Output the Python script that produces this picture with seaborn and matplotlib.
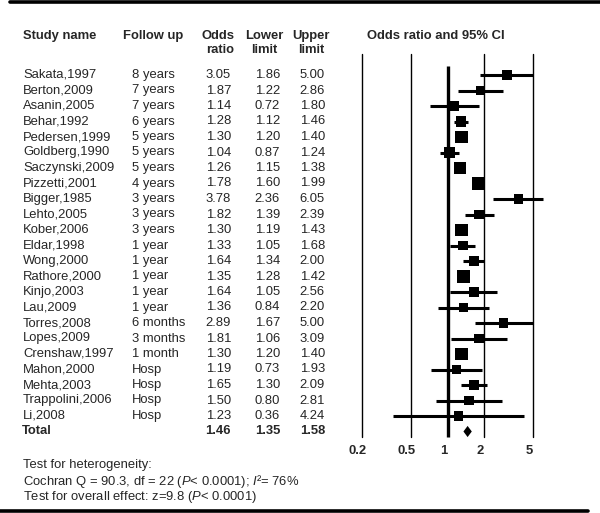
import numpy as np
import matplotlib
matplotlib.use("Agg")
import matplotlib.pyplot as plt
import matplotlib.transforms as mtransforms
from matplotlib.lines import Line2D
from matplotlib.ticker import NullLocator
import seaborn as sns

studies = ['Sakata,1997', 'Berton,2009', 'Asanin,2005', 'Behar,1992', 'Pedersen,1999',
           'Goldberg,1990', 'Saczynski,2009', 'Pizzetti,2001', 'Bigger,1985', 'Lehto,2005',
           'Kober,2006', 'Eldar,1998', 'Wong,2000', 'Rathore,2000', 'Kinjo,2003', 'Lau,2009',
           'Torres,2008', 'Lopes,2009', 'Crenshaw,1997', 'Mahon,2000', 'Mehta,2003',
           'Trappolini,2006', 'Li,2008']
follow_up = ['8 years', '7 years', '7 years', '6 years', '5 years', '5 years', '5 years',
             '4 years', '3 years', '3 years', '3 years', '1 year', '1 year', '1 year',
             '1 year', '1 year', '6 months', '3 months', '1 month', 'Hosp', 'Hosp', 'Hosp', 'Hosp']
odds = [3.05, 1.87, 1.14, 1.28, 1.30, 1.04, 1.26, 1.78, 3.78, 1.82, 1.30, 1.33, 1.64, 1.35,
        1.64, 1.36, 2.89, 1.81, 1.30, 1.19, 1.65, 1.50, 1.23]
lower = [1.86, 1.22, 0.72, 1.12, 1.20, 0.87, 1.15, 1.60, 2.36, 1.39, 1.19, 1.05, 1.34, 1.28,
         1.05, 0.84, 1.67, 1.06, 1.20, 0.73, 1.30, 0.80, 0.36]
upper = [5.00, 2.86, 1.80, 1.46, 1.40, 1.24, 1.38, 1.99, 6.05, 2.39, 1.43, 1.68, 2.00, 1.42,
         2.56, 2.20, 5.00, 3.09, 1.40, 1.93, 2.09, 2.81, 4.24]
# relative study weights (box area)
weights = [3.8, 3.4, 3.4, 4.2, 6.0, 4.2, 6.0, 6.0, 3.4, 3.8, 6.0, 3.8, 4.2, 7.0, 3.8, 3.4,
           3.4, 3.8, 6.5, 3.4, 4.2, 3.4, 3.4]
total = (1.46, 1.35, 1.58)
ticks = [0.2, 0.5, 1, 2, 5]

sns.set_style("white")
plt.rcParams['font.family'] = ['Liberation Sans', 'DejaVu Sans']
plt.rcParams['mathtext.fontset'] = 'custom'
plt.rcParams['mathtext.rm'] = 'Liberation Sans'
plt.rcParams['mathtext.it'] = 'Liberation Sans:italic'

W, H = 600, 513
fig = plt.figure(figsize=(W / 100, H / 100), dpi=100)
fs = 9.4


def px(x, y):
    return x / W, 1 - y / H


def put(x, y, s, **kw):
    kw.setdefault('fontsize', fs)
    kw.setdefault('va', 'center')
    fig.text(*px(x, y), s, **kw)


# horizontal rules
fig.add_artist(Line2D([10 / W, 1], [1 - 1.5 / H] * 2, color='black', lw=2.6,
                      transform=fig.transFigure))
fig.add_artist(Line2D([0, 588 / W], [1 - 511 / H] * 2, color='black', lw=2.6,
                      transform=fig.transFigure))

# header
put(23, 36, 'Study name', fontweight='bold')
put(123, 36, 'Follow up', fontweight='bold')
put(234, 43, 'Odds\nratio', fontweight='bold', ha='right', multialignment='right', linespacing=1.25)
put(264, 43, 'Lower\nlimit', fontweight='bold', ha='center', multialignment='center', linespacing=1.25)
put(311, 43, 'Upper\nlimit', fontweight='bold', ha='center', multialignment='center', linespacing=1.25)
put(436, 36, 'Odds ratio and 95% CI', fontweight='bold', ha='center')

row0, dy = 75, 15.5
for i in range(len(studies)):
    y = row0 + dy * i
    put(23, y, studies[i])
    put(132, y, follow_up[i])
    put(231, y, f'{odds[i]:.2f}', ha='right')
    put(280, y, f'{lower[i]:.2f}', ha='right')
    put(325, y, f'{upper[i]:.2f}', ha='right')

n = len(studies)
yt = row0 + dy * n
put(22, yt, 'Total', fontweight='bold')
put(231, yt, f'{total[0]:.2f}', ha='right', fontweight='bold')
put(280, yt, f'{total[1]:.2f}', ha='right', fontweight='bold')
put(325, yt, f'{total[2]:.2f}', ha='right', fontweight='bold')

put(23, 465, 'Test for heterogeneity:')
put(23, 481, r'Cochran Q = 90.3, df = 22 ($\mathit{P}$< 0.0001); $\mathit{I}$²= 76%')
put(23, 497, r'Test for overall effect: z=9.8 ($\mathit{P}$< 0.0001)')

# forest panel
top, bot, left, right = 54, 437, 362, 533
ax = fig.add_axes([left / W, 1 - bot / H, (right - left) / W, (bot - top) / H])
ax.set_xscale('log')
ax.set_xlim(0.2, 5)
ax.set_ylim((bot - row0) / dy, (top - row0) / dy)

for t in ticks:
    if t == 1:
        ax.vlines(1, (66 - row0) / dy, (bot - row0) / dy, color='black', lw=2.4, clip_on=False)
    else:
        ax.axvline(t, color='black', lw=1.0, clip_on=False)

rows = np.arange(n)
ax.hlines(rows, lower, upper, color='black', lw=2.2, clip_on=False)
sns.scatterplot(x=odds, y=rows, size=weights, sizes=(44, 90), marker='s', color='black',
                linewidth=0, legend=False, ax=ax, clip_on=False, zorder=3)

h = 0.36
ax.fill([total[1], total[0], total[2], total[0]], [n, n - h, n, n + h], color='black',
        lw=0, clip_on=False)

for s in ax.spines.values():
    s.set_visible(False)
ax.xaxis.set_minor_locator(NullLocator())
ax.set_xticks(ticks)
ax.set_xticklabels(['0.2', '0.5', '1', '2', '5'], fontweight='bold', fontsize=fs)
ax.tick_params(axis='x', length=0, pad=6)
ax.set_yticks([])
ax.set_xlabel('')
ax.set_ylabel('')
shift = mtransforms.ScaledTranslation(-4 / 100, 0, fig.dpi_scale_trans)
for lab in ax.get_xticklabels():
    lab.set_transform(lab.get_transform() + shift)

fig.savefig('out.png', dpi=100)
